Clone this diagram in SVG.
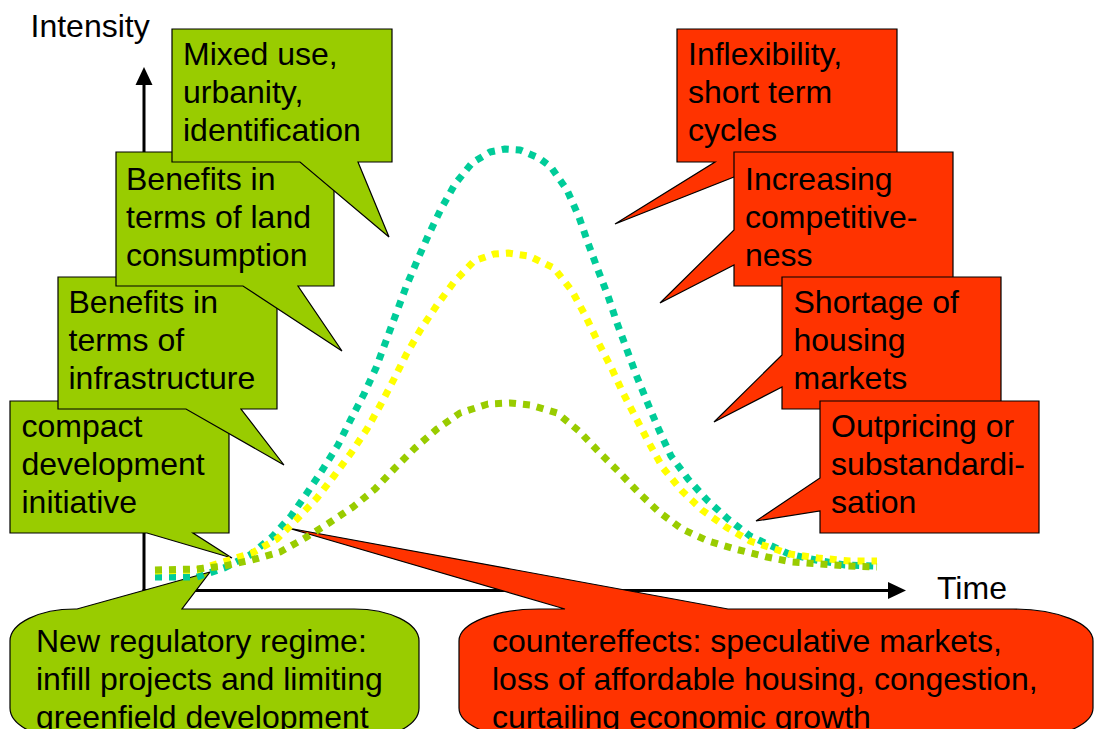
<svg xmlns="http://www.w3.org/2000/svg" width="1094" height="729" viewBox="0 0 1094 729">
<style>
text{font-family:"Liberation Sans",Arial,sans-serif;font-size:32px;fill:#000}
.g{fill:#99CC00;stroke:#000;stroke-width:1.2;stroke-linejoin:miter}
.r{fill:#FF3300;stroke:#000;stroke-width:1.2;stroke-linejoin:miter}
.ax{stroke:#000;stroke-width:3;fill:none}
.cv{fill:none;stroke-width:7;stroke-dasharray:7 7;stroke-linejoin:round}
</style>
<rect width="1094" height="729" fill="#fff"/>
<g id="axes">
<line class="ax" x1="144" y1="84" x2="144" y2="591.5"/>
<line class="ax" x1="142.5" y1="590.5" x2="890" y2="590.5"/>
<polygon points="144,67 135.5,85 152.5,85" fill="#000"/>
<polygon points="906,590.5 888,582 888,599" fill="#000"/>
</g>
<text x="30.5" y="37">Intensity</text>
<text x="937" y="599">Time</text>
<g id="compact">
<polygon class="g" points="10,401 229,401 229,533 193,533 232,558 147,533 10,533"/>
<text x="21.5" y="437">compact</text>
<text x="21.5" y="475">development</text>
<text x="21.5" y="513">initiative</text>
</g>
<g id="infrastructure">
<polygon class="g" points="58,277 277,277 277,409 241,409 284,465 186,409 58,409"/>
<text x="68.5" y="313">Benefits in</text>
<text x="68.5" y="351">terms of</text>
<text x="68.5" y="389">infrastructure</text>
</g>
<g id="land">
<polygon class="g" points="116,152 334,152 334,286 298,286 342,351 243,286 116,286"/>
<text x="126" y="190">Benefits in</text>
<text x="126" y="228">terms of land</text>
<text x="126" y="266">consumption</text>
</g>
<g id="mixed">
<polygon class="g" points="172,29 392,29 392,162 358,162 389,237 300,162 172,162"/>
<text x="183" y="65">Mixed use,</text>
<text x="183" y="103">urbanity,</text>
<text x="183" y="141">identification</text>
</g>
<g id="inflexibility">
<polygon class="r" points="677,29 897,29 897,162 772,162 615,224 715,162 677,162"/>
<text x="688" y="65">Inflexibility,</text>
<text x="688" y="103">short term</text>
<text x="688" y="141">cycles</text>
</g>
<g id="competitiveness">
<polygon class="r" points="734,152 953,152 953,286 734,286 734,265 660,303 734,230"/>
<text x="745" y="190">Increasing</text>
<text x="745" y="228">competitive-</text>
<text x="745" y="266">ness</text>
</g>
<g id="shortage">
<polygon class="r" points="782,277 1001,277 1001,409 782,409 782,387 714,422 782,355"/>
<text x="793.5" y="313">Shortage of</text>
<text x="793.5" y="351">housing</text>
<text x="793.5" y="389">markets</text>
</g>
<g id="outpricing">
<polygon class="r" points="820,401 1039,401 1039,533 820,533 820,511 756,521 820,478"/>
<text x="831" y="437">Outpricing or</text>
<text x="831" y="475">substandardi-</text>
<text x="831" y="513">sation</text>
</g>
<g id="regime">
<path class="g" d="M10,641 A65,32 0 0 1 75,609 L77,609 L210,572 L182,609 L354,609 A65,32 0 0 1 419,641 L419,708 A65,32 0 0 1 354,740 L75,740 A65,32 0 0 1 10,708 Z"/>
<text x="36" y="652">New regulatory regime:</text>
<text x="36" y="690">infill projects and limiting</text>
<text x="36" y="728">greenfield development</text>
</g>
<g id="countereffects">
<path class="r" d="M459,641 A80,32 0 0 1 539,609 L565,609 L288,528 L728,609 L1013,609 A80,32 0 0 1 1093,641 L1093,708 A80,32 0 0 1 1013,740 L539,740 A80,32 0 0 1 459,708 Z"/>
<text x="492" y="652">countereffects: speculative markets,</text>
<text x="492" y="690">loss of affordable housing, congestion,</text>
<text x="492" y="728">curtailing economic growth</text>
</g>
<g id="curves">
<polyline class="cv" stroke="#00CC99" points="155,577 197,577 224,568 250,555 272,537 291,516 307,493 323,469 338,445 351,419 364,394 376,368 386,341 396,314 406,287 417,261 428,236 441,209 455,184 472,163 490,152 505,149 520,150 539,158 551,167 567,190 579,217 588,243 598,270 608,296 617,323 627,350 637,377 648,404 659,430 671,456 688,479 707,500 728,519 750,536 789,554 816,560 845,565 877,566"/>
<polyline class="cv" stroke="#FFFF00" points="155,571 197,570 223,562 252,553 277,539 297,519 317,498 334,476 351,453 367,429 381,404 394,379 407,353 421,329 437,305 454,282 474,261 494,254 508,253 529,256 554,268 572,291 585,315 598,342 611,367 623,393 636,418 649,443 663,468 682,491 702,510 726,527 750,541 790,554 818,558 850,561 877,561"/>
<polyline class="cv" stroke="#99CC00" points="155,570 197,569 224,566 252,560 280,552 305,538 329,523 353,507 375,489 395,468 415,448 437,429 460,413 488,404 510,403 530,405 557,413 579,431 599,452 619,472 639,493 659,512 682,529 708,541 735,549 767,557 792,562 819,564 847,566 877,567"/>
</g>
</svg>
